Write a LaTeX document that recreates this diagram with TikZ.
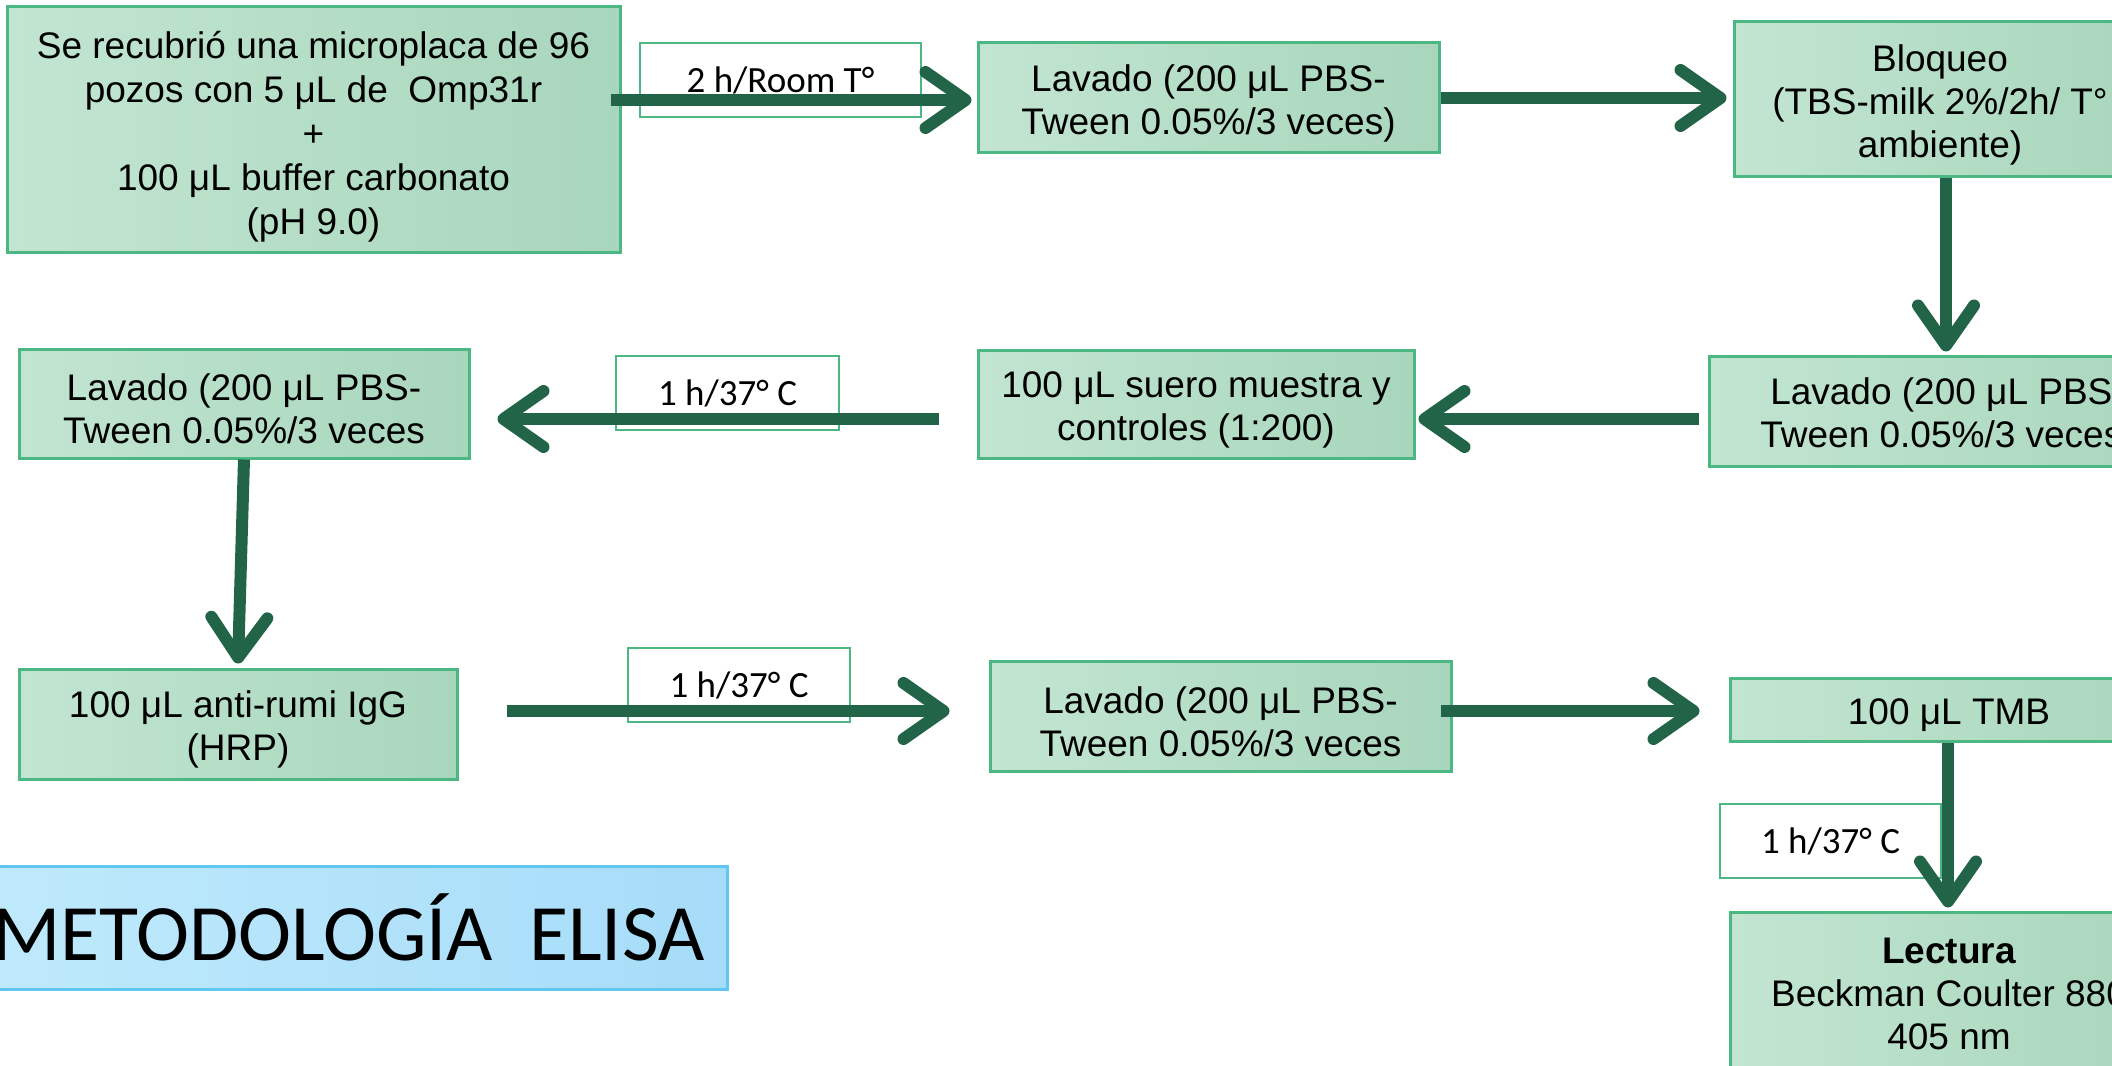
\documentclass[tikz,border=0pt]{standalone}
\usepackage{fontspec}
\setmainfont{Liberation Sans}
\newfontfamily\calib{Carlito}
\usetikzlibrary{arrows.meta}
\definecolor{boxA}{RGB}{194,229,209}
\definecolor{boxB}{RGB}{168,214,188}
\definecolor{boxline}{RGB}{76,183,130}
\definecolor{arr}{RGB}{33,100,71}
\definecolor{titA}{RGB}{192,234,252}
\definecolor{titB}{RGB}{166,220,249}
\definecolor{titline}{RGB}{96,200,240}
\newcommand\topstrut[1][19pt]{\rule{0pt}{#1}}
\begin{document}
\begin{tikzpicture}[x=0.5pt,y=-0.5pt,
 stepbox/.style={draw=boxline, line width=1.5pt, left color=boxA, right color=boxB, inner sep=0pt, align=center, font=\fontsize{18.5}{21.5}\selectfont, text=black},
 timebox/.style={draw=boxline, line width=1.2pt, fill=white, inner sep=0pt, font=\calib\fontsize{18.5}{22}\selectfont, text=black},
 titlebox/.style={draw=titline, line width=1.5pt, left color=titA, right color=titB, inner sep=0pt, font=\calib\fontsize{40}{46}\selectfont, text=black},
 flow/.style={draw=arr, line width=6pt, -{Straight Barb[length=20pt,width=28pt,line cap=round,line join=round]}}
]
\useasboundingbox (0,0) rectangle (2112,1065);
\clip (0,0) rectangle (2112,1065);

% time labels
\node[timebox, minimum width=140.5pt, minimum height=37pt] (t1) at (780.5,80) {2 h/Room T°};
\node[timebox, minimum width=111.5pt, minimum height=37pt] (t2) at (727.5,393) {1 h/37° C};
\node[timebox, minimum width=111pt, minimum height=37pt] (t3) at (739,685) {1 h/37° C};
\node[timebox, minimum width=110.5pt, minimum height=37pt] (t4) at (1830.5,841) {1 h/37° C};

% steps
\node[stepbox, minimum width=306.5pt, minimum height=122.5pt, font=\fontsize{18.5}{22}\selectfont] (b1) at (313.5,129.5)
 {\topstrut[20.5pt]Se recubrió una microplaca de 96\\ pozos con 5 μL de~~Omp31r\\ +\\ 100 μL buffer carbonato\\ (pH 9.0)};
\node[stepbox, minimum width=230.5pt, minimum height=54.5pt] (b2) at (1208.5,97.5)
 {\topstrut Lavado (200 μL PBS-\\Tween 0.05\%/3 veces)};
\node[stepbox, minimum width=206pt, minimum height=77pt] (b3) at (1940,99)
 {\topstrut Bloqueo\\(TBS-milk 2\%/2h/ T°\\ambiente)};
\node[stepbox, minimum width=238.5pt, minimum height=55pt] (b4) at (1947.5,411)
 {\topstrut Lavado (200 μL PBS-\\Tween 0.05\%/3 veces)};
\node[stepbox, minimum width=218pt, minimum height=54pt] (b5) at (1196,404)
 {\topstrut 100 μL suero muestra y\\controles (1:200)};
\node[stepbox, minimum width=225pt, minimum height=54.5pt] (b6) at (244,403.5)
 {\topstrut Lavado (200 μL PBS-\\Tween 0.05\%/3 veces};
\node[stepbox, minimum width=219pt, minimum height=55pt] (b7) at (238,724)
 {\topstrut 100 μL anti-rumi IgG\\(HRP)};
\node[stepbox, minimum width=230.5pt, minimum height=55pt] (b8) at (1220.5,716)
 {\topstrut Lavado (200 μL PBS-\\Tween 0.05\%/3 veces};
\node[stepbox, minimum width=219pt, minimum height=31.5pt] (b9) at (1949,709.5)
 {\topstrut 100 μL TMB};
\node[stepbox, minimum width=219pt, minimum height=81.5pt] (b10) at (1949,993.5)
 {\textbf{Lectura}\\Beckman Coulter 880\\405 nm};

% title
\node[titlebox, minimum width=378.5pt, minimum height=61.5pt] (title) at (348.5,927.5) {METODOLOGÍA~~ELISA};

% connectors
\draw[flow] ([shift={(-11,-29.5)}]b1.east) -- ([shift={(-5,2.5)}]b2.west);
\draw[flow] ([shift={(0,0.5)}]b2.east) -- ([shift={(-6,-1)}]b3.west);
\draw[flow] ([shift={(6,0)}]b3.south) -- ([shift={(-1.5,-3)}]b4.north);
\draw[flow] ([shift={(-9,8)}]b4.west) -- ([shift={(3,15)}]b5.east);
\draw[flow] ([shift={(-38,15)}]b5.west) -- ([shift={(27,15.5)}]b6.east);
\draw[flow] (b6.south) -- ([shift={(0,-4)}]b7.north);
\draw[flow] ([shift={(48,-13)}]b7.east) -- ([shift={(-39,-5)}]b8.west);
\draw[flow] ([shift={(-12,-5)}]b8.east) -- ([shift={(-29,1.5)}]b9.west);
\draw[flow] ([shift={(-1,0)}]b9.south) -- ([shift={(-1,-3)}]b10.north);
\end{tikzpicture}
\end{document}
